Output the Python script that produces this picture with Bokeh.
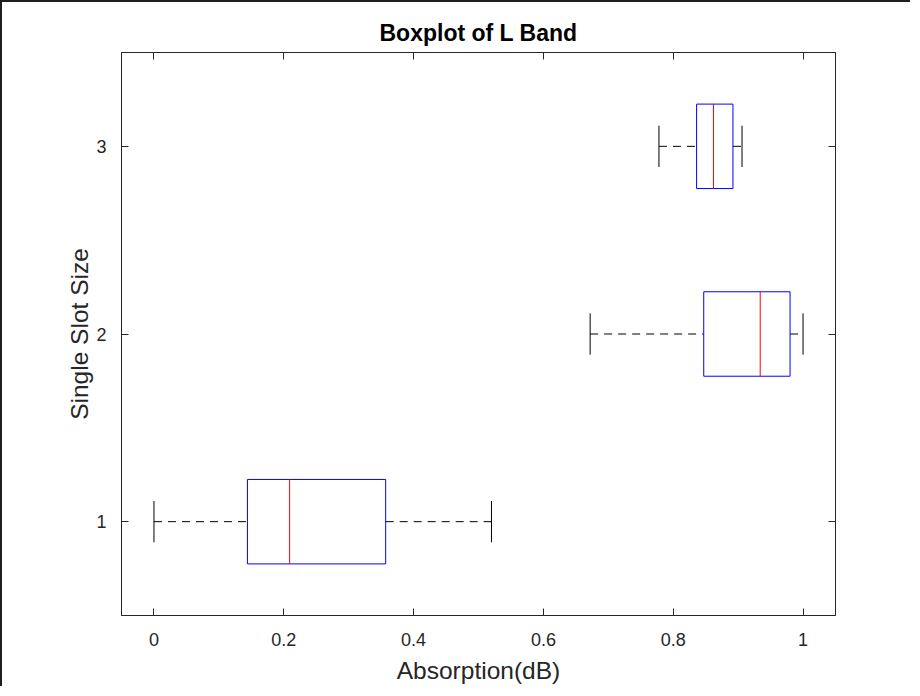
import numpy as np
from bokeh.plotting import figure
from bokeh.models import LinearAxis, FixedTicker, Range1d, ColumnDataSource
from bokeh.embed import file_html
from bokeh.resources import INLINE

# ---- data ----
groups = [1, 2, 3]
lower_whisker = [0.000, 0.672, 0.778]
q1 = [0.144, 0.847, 0.836]
median = [0.209, 0.934, 0.862]
q3 = [0.357, 0.980, 0.892]
upper_whisker = [0.520, 1.000, 0.906]
x_ticks = [0, 0.2, 0.4, 0.6, 0.8, 1]
x_tick_labels = ["0", "0.2", "0.4", "0.6", "0.8", "1"]
y_ticks = [1, 2, 3]
y_tick_labels = ["1", "2", "3"]

BOX_H = 0.45
CAP_H = 0.22
AX = "#262626"
FONT = "Liberation Sans"

g = np.array(groups, dtype=float)
src = ColumnDataSource(dict(
    y=g,
    lo=np.array(lower_whisker), q1=np.array(q1), med=np.array(median),
    q3=np.array(q3), hi=np.array(upper_whisker),
    y0=g - BOX_H / 2, y1=g + BOX_H / 2,
    c0=g - CAP_H / 2, c1=g + CAP_H / 2,
))

p = figure(width=910, height=686, output_backend="svg", toolbar_location=None,
           x_range=Range1d(-0.05, 1.05), y_range=Range1d(0.5, 3.5),
           min_border_left=119, min_border_right=77, min_border_top=50,
           min_border_bottom=73, title="Boxplot of L Band")
p.styles = {"border-left": "2px solid #1e1e1e", "border-top": "2px solid #1e1e1e"}

p.title.align = "center"
p.title.text_font = FONT
p.title.text_font_size = "23px"
p.title.text_font_style = "bold"
p.title.text_color = "#000000"
p.title.standoff = 13

p.xgrid.visible = False
p.ygrid.visible = False
p.outline_line_color = AX
p.outline_line_width = 1

for ax in (p.xaxis[0], p.yaxis[0]):
    ax.major_tick_in = 7
    ax.major_tick_out = 0
    ax.minor_tick_in = 0
    ax.minor_tick_out = 0
    ax.axis_line_color = AX
    ax.major_tick_line_color = AX
    ax.major_label_text_color = AX
    ax.major_label_text_font = FONT
    ax.major_label_text_font_size = "18px"
    ax.axis_label_text_font = FONT
    ax.axis_label_text_font_size = "24.5px"
    ax.axis_label_text_font_style = "normal"
    ax.axis_label_text_color = AX

p.xaxis[0].ticker = FixedTicker(ticks=x_ticks)
p.xaxis[0].major_label_overrides = {float(t): s for t, s in zip(x_ticks, x_tick_labels)}
p.xaxis[0].axis_label = "Absorption(dB)"
p.xaxis[0].major_label_standoff = 17
p.xaxis[0].axis_label_standoff = 8

p.yaxis[0].ticker = FixedTicker(ticks=y_ticks)
p.yaxis[0].major_label_overrides = {int(t): s for t, s in zip(y_ticks, y_tick_labels)}
p.yaxis[0].axis_label = "Single Slot Size"
p.yaxis[0].major_label_standoff = 15
p.yaxis[0].axis_label_standoff = 0

top = LinearAxis(ticker=FixedTicker(ticks=x_ticks), major_tick_in=7, major_tick_out=0,
                 minor_tick_in=0, minor_tick_out=0, major_label_text_font_size="1px",
                 major_label_text_color=None, major_label_standoff=0,
                 axis_line_color=AX, major_tick_line_color=AX)
right = LinearAxis(ticker=FixedTicker(ticks=y_ticks), major_tick_in=7, major_tick_out=0,
                   minor_tick_in=0, minor_tick_out=0, major_label_text_font_size="1px",
                   major_label_text_color=None, major_label_standoff=0,
                   axis_line_color=AX, major_tick_line_color=AX)
p.add_layout(top, "above")
p.add_layout(right, "right")

# whiskers
p.segment(x0="lo", y0="y", x1="q1", y1="y", source=src, line_color="black",
          line_width=1, line_dash="8 6")
p.segment(x0="q3", y0="y", x1="hi", y1="y", source=src, line_color="black",
          line_width=1, line_dash="8 6")
# caps
p.segment(x0="lo", y0="c0", x1="lo", y1="c1", source=src, line_color="black", line_width=1)
p.segment(x0="hi", y0="c0", x1="hi", y1="c1", source=src, line_color="black", line_width=1)
# boxes
p.quad(left="q1", right="q3", bottom="y0", top="y1", source=src,
       fill_color=None, line_color="#0000ff", line_width=1)
# medians
p.segment(x0="med", y0="y0", x1="med", y1="y1", source=src, line_color="#ff0000", line_width=1)

open("out.html", "w").write(file_html(p, INLINE))
